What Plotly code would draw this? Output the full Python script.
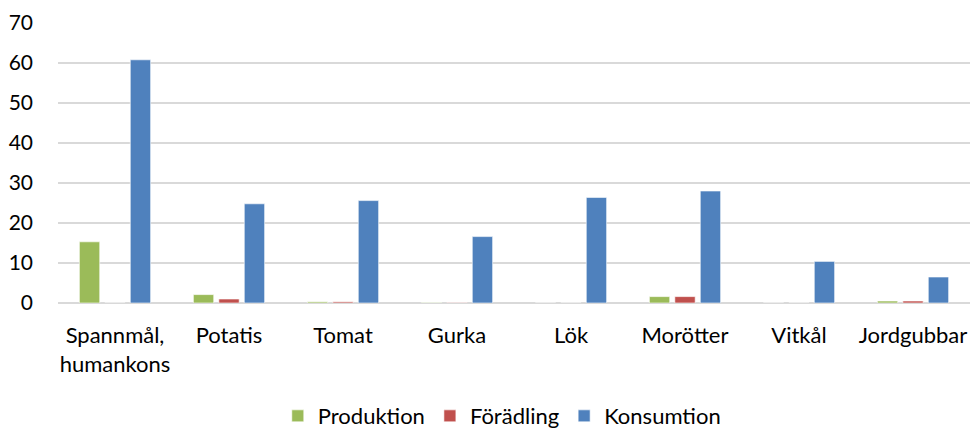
import plotly.graph_objects as go

categories = ["Spannmål,<br>humankons", "Potatis", "Tomat", "Gurka", "Lök", "Morötter", "Vitkål", "Jordgubbar"]
produktion = [15.3, 2.1, 0.3, 0.1, 0.0, 1.6, 0.0, 0.5]
foradling = [0.0, 1.0, 0.3, 0.1, 0.0, 1.6, 0.0, 0.5]
konsumtion = [60.8, 24.8, 25.6, 16.6, 26.4, 28.0, 10.4, 6.5]
y_ticks = [0, 10, 20, 30, 40, 50, 60, 70]

font = "Lato"
fig = go.Figure()
for name, vals, col in [("Produktion", produktion, "#9BBB59"),
                        ("Förädling", foradling, "#C0504D"),
                        ("Konsumtion", konsumtion, "#4F81BD")]:
    fig.add_trace(go.Bar(x=categories, y=vals, name=name, marker_color=col,
                         marker_line=dict(color="rgba(255,255,255,0.6)", width=1)))

fig.update_layout(
    width=979, height=428,
    margin=dict(l=58, r=9, t=23, b=125),
    paper_bgcolor="white", plot_bgcolor="white",
    barmode="group", bargap=0.33, bargroupgap=0.2,
    font=dict(family=font, size=22, color="#000000"),
    showlegend=True,
    legend=dict(orientation="h", x=0.241, xanchor="left",
                yref="container", y=0.077, yanchor="top",
                font=dict(size=22), itemwidth=30, traceorder="normal"),
    yaxis=dict(range=[0, 70], tickvals=y_ticks, showgrid=True, gridcolor="#D9D9D9",
               gridwidth=1.5, zeroline=True, zerolinecolor="#D9D9D9", zerolinewidth=1.5,
               showline=False, ticks="", ticklabelstandoff=24, automargin=False,
               tickfont=dict(size=21)),
    xaxis=dict(showline=False, ticks="", tickfont=dict(size=22), ticklabelstandoff=17,
               automargin=False),
)
fig.write_html("out.html", config={"displayModeBar": False})
with open("out.html", encoding="utf-8") as f:
    html = f.read()
html = html.replace("<head>", "<head><style>html,body{margin:0;padding:0;}</style>", 1)
with open("out.html", "w", encoding="utf-8") as f:
    f.write(html)
